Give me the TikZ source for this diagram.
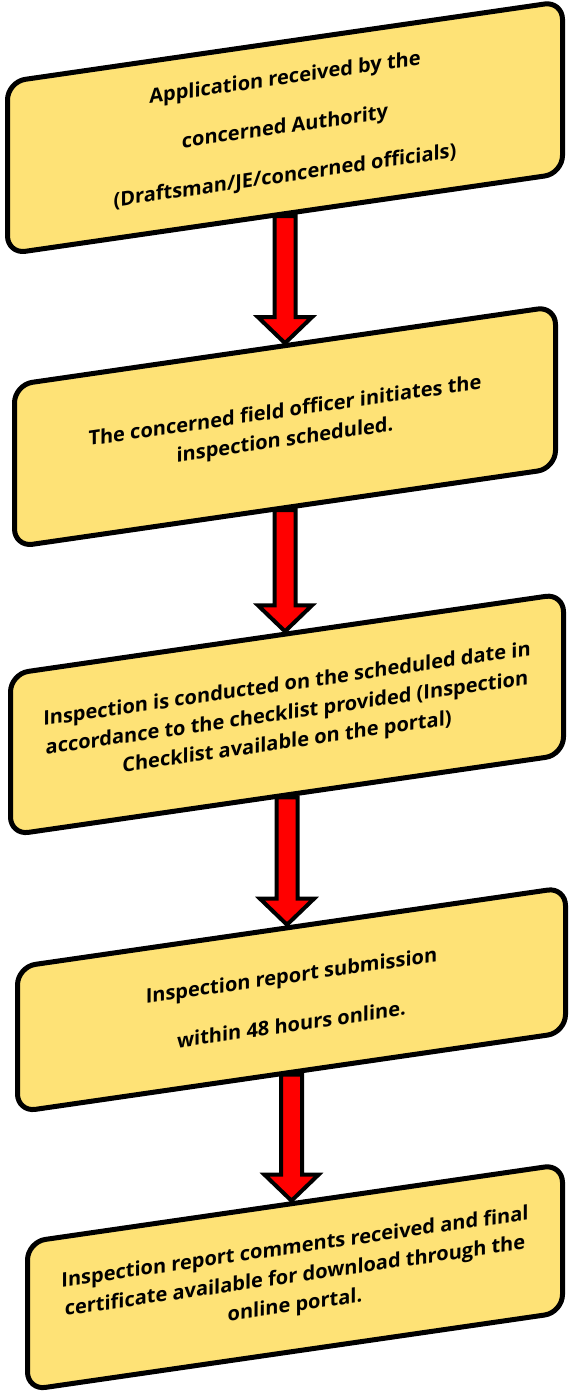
\documentclass[tikz,border=0pt]{standalone}
\usepackage{fontspec}
\setmainfont{Open Sans}
\usepackage{tikz}
\usetikzlibrary{calc, backgrounds}
\definecolor{boxyellow}{RGB}{254,226,118}
\tikzstyle{stepbox} = [rectangle, rounded corners=18pt, draw=black, line width=5pt, fill=boxyellow, transform shape, align=center, text=black, font=\fontsize{20}{29}\selectfont\bfseries]
\tikzstyle{widegap} = [font=\fontsize{20}{49}\selectfont\bfseries]
\tikzstyle{arrow} = [draw=black, fill=red, line width=4pt, line join=miter,
  to path={let \p1=(\tikztostart), \p2=(\tikztotarget) in
    (\x1-10.5pt,\y1) -- (\x1+10.5pt,\y1) -- (\x1+10.5pt,\y2+26pt) -- (\x1+27pt,\y2+26pt)
    -- (\x1,\y2) -- (\x1-27pt,\y2+26pt) -- (\x1-10.5pt,\y2+26pt) -- cycle}]

\begin{document}
\begin{tikzpicture}[x=1pt, y=1pt]

\useasboundingbox (0,0) rectangle (568,1398);

\begin{scope}[yslant=0.145]
\node (apply) [stepbox, widegap, minimum width=555pt, minimum height=172pt] at (285,1229) {Application received by the\\concerned Authority\\(Draftsman/JE/concerned officials)};
\node (init) [stepbox, minimum width=541pt, minimum height=162pt] at (285,930) {The concerned field officer initiates the\\inspection scheduled.};
\node (inspect) [stepbox, minimum width=553pt, minimum height=161pt] at (287,642) {Inspection is conducted on the scheduled date in\\accordance to the checklist provided (Inspection\\Checklist available on the portal)};
\node (submit) [stepbox, widegap, minimum width=548pt, minimum height=145pt] at (291.5,356) {Inspection report submission\\within 48 hours online.};
\node (final) [stepbox, minimum width=535pt, minimum height=148pt] at (295,78) {Inspection report comments received and final\\certificate available for download through the\\online portal.};
\end{scope}

\begin{scope}[on background layer]
\draw [arrow] (apply.south) to (init.north);
\draw [arrow] (init.south) to (inspect.north);
\draw [arrow] (inspect.south) to (submit.north);
\draw [arrow] (submit.south) to (final.north);
\end{scope}

\end{tikzpicture}
\end{document}
